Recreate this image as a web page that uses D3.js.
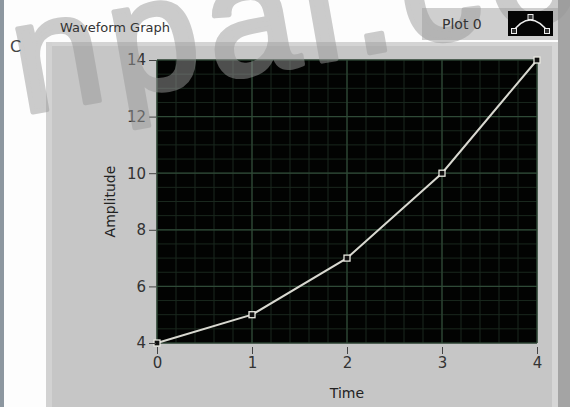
<!DOCTYPE html>
<html><head><meta charset="utf-8">
<script src="https://cdn.jsdelivr.net/npm/d3@7"></script>
<style>body{margin:0;background:#fff;overflow:hidden}svg{display:block}</style>
</head><body>
<script>
const times = [0, 1, 2, 3, 4];
const amplitudes = [4, 5, 7, 10, 14];
const xTicks = [0, 1, 2, 3, 4];
const yTicks = [4, 6, 8, 10, 12, 14];
const title = "Waveform Graph";
const legendLabel = "Plot 0";
const xTitle = "Time", yTitle = "Amplitude";
const watermark = "npal.co";

const W = 570, H = 407;
const svg = d3.select("body").append("svg").attr("width", W).attr("height", H);
const font = "DejaVu Sans, Verdana, sans-serif";

// background pieces
svg.append("rect").attr("x",0).attr("y",0).attr("width",W).attr("height",H).attr("fill","#fdfdfd");
svg.append("rect").attr("x",0).attr("y",0).attr("width",4).attr("height",H).attr("fill","#8d97a0");
svg.append("rect").attr("x",46).attr("y",42).attr("width",512).attr("height",H-42).attr("fill","#c6c6c6");
svg.append("rect").attr("x",46).attr("y",42).attr("width",512).attr("height",4).attr("fill","#d4d4d4");
svg.append("rect").attr("x",46).attr("y",42).attr("width",6).attr("height",H-42).attr("fill","#d2d2d2");
svg.append("rect").attr("x",558).attr("y",0).attr("width",12).attr("height",H).attr("fill","#a4a4a4");
svg.append("rect").attr("x",552).attr("y",42).attr("width",6).attr("height",H-42).attr("fill","#d6d6d6");

const x = d3.scaleLinear().domain([0,4]).range([157,537]);
const y = d3.scaleLinear().domain([4,14]).range([343,60]);

// plot area
svg.append("rect").attr("x",x(0)).attr("y",y(14)).attr("width",x(4)-x(0)).attr("height",y(4)-y(14)).attr("fill","#020302");
const g = svg.append("g");
const minorX = d3.range(0,4.0001,0.2), minorY = d3.range(4,14.0001,0.5);
g.selectAll(".mx").data(minorX).join("line").attr("x1",d=>x(d)).attr("x2",d=>x(d)).attr("y1",y(14)).attr("y2",y(4)).attr("stroke","#1a281e").attr("stroke-width",1);
g.selectAll(".my").data(minorY).join("line").attr("y1",d=>y(d)).attr("y2",d=>y(d)).attr("x1",x(0)).attr("x2",x(4)).attr("stroke","#1a281e").attr("stroke-width",1);
g.selectAll(".Mx").data(xTicks).join("line").attr("x1",d=>x(d)).attr("x2",d=>x(d)).attr("y1",y(14)).attr("y2",y(4)).attr("stroke","#2f4a37").attr("stroke-width",1.2);
g.selectAll(".My").data(yTicks).join("line").attr("y1",d=>y(d)).attr("y2",d=>y(d)).attr("x1",x(0)).attr("x2",x(4)).attr("stroke","#2f4a37").attr("stroke-width",1.2);

// line
const pts = times.map((t,i)=>[t, amplitudes[i]]);
svg.append("path").datum(pts).attr("d", d3.line().x(d=>x(d[0])).y(d=>y(d[1])))
  .attr("fill","none").attr("stroke","#d8d8d0").attr("stroke-width",2);
svg.selectAll(".pt").data(pts).join("rect").attr("x",d=>x(d[0])-3).attr("y",d=>y(d[1])-3).attr("width",6).attr("height",6)
  .attr("fill","#111").attr("stroke","#e8e8e0").attr("stroke-width",1.3);

// axes
const yAxis = svg.append("g").attr("transform",`translate(${x(0)-1},0)`)
  .call(d3.axisLeft(y).tickValues(yTicks).tickSize(7).tickPadding(3).tickFormat(d3.format("d")));
const xAxis = svg.append("g").attr("transform",`translate(0,${y(4)+4})`)
  .call(d3.axisBottom(x).tickValues(xTicks).tickSize(7).tickPadding(3).tickFormat(d3.format("d")));
[yAxis,xAxis].forEach(a=>{
  a.select(".domain").remove();
  a.selectAll("line").attr("stroke","#444");
  a.selectAll("text").attr("fill","#333").attr("font-family",font).attr("font-size",15);
});

// legend box
svg.append("rect").attr("x",422).attr("y",8).attr("width",136).attr("height",32).attr("fill","#cfcfcf");

// watermark (overlay)
svg.append("text").attr("x",22).attr("y",114).attr("transform","rotate(-10,22,114)")
  .attr("font-family","Liberation Sans, Arial, sans-serif").attr("font-size",160)
  .attr("fill","#9a9a9a").attr("stroke","#9a9a9a").attr("stroke-width",5).attr("stroke-linejoin","round")
  .attr("opacity",0.5).attr("letter-spacing",9).text(watermark);

svg.append("text").attr("x",(x(0)+x(4))/2).attr("y",398).attr("text-anchor","middle")
  .attr("font-family",font).attr("font-size",14).attr("fill","#222").text(xTitle);
svg.append("text").attr("transform",`translate(115,${(y(4)+y(14))/2}) rotate(-90)`).attr("text-anchor","middle")
  .attr("font-family",font).attr("font-size",14).attr("fill","#222").text(yTitle);

// title and legend
svg.append("text").attr("x",60).attr("y",32).attr("font-family",font).attr("font-size",13).attr("fill","#333").text(title);
svg.append("text").attr("x",10).attr("y",52).attr("font-family",font).attr("font-size",16).attr("fill","#444").text("C");
svg.append("text").attr("x",442).attr("y",29).attr("font-family",font).attr("font-size",14).attr("fill","#333").text(legendLabel);
const ix = 508, iy = 11;
svg.append("rect").attr("x",ix).attr("y",iy).attr("width",45).attr("height",25).attr("fill","#050505");
svg.append("path").attr("d",`M${ix+4},${iy+22} Q${ix+22},${iy-4} ${ix+41},${iy+22}`).attr("fill","none").attr("stroke","#eee").attr("stroke-width",1.5);
[[ix+6,iy+20],[ix+22.5,iy+6],[ix+39,iy+20]].forEach(p=>svg.append("rect").attr("x",p[0]-2.5).attr("y",p[1]-2.5).attr("width",5).attr("height",5).attr("fill","#333").attr("stroke","#eee"));
</script>
</body></html>
